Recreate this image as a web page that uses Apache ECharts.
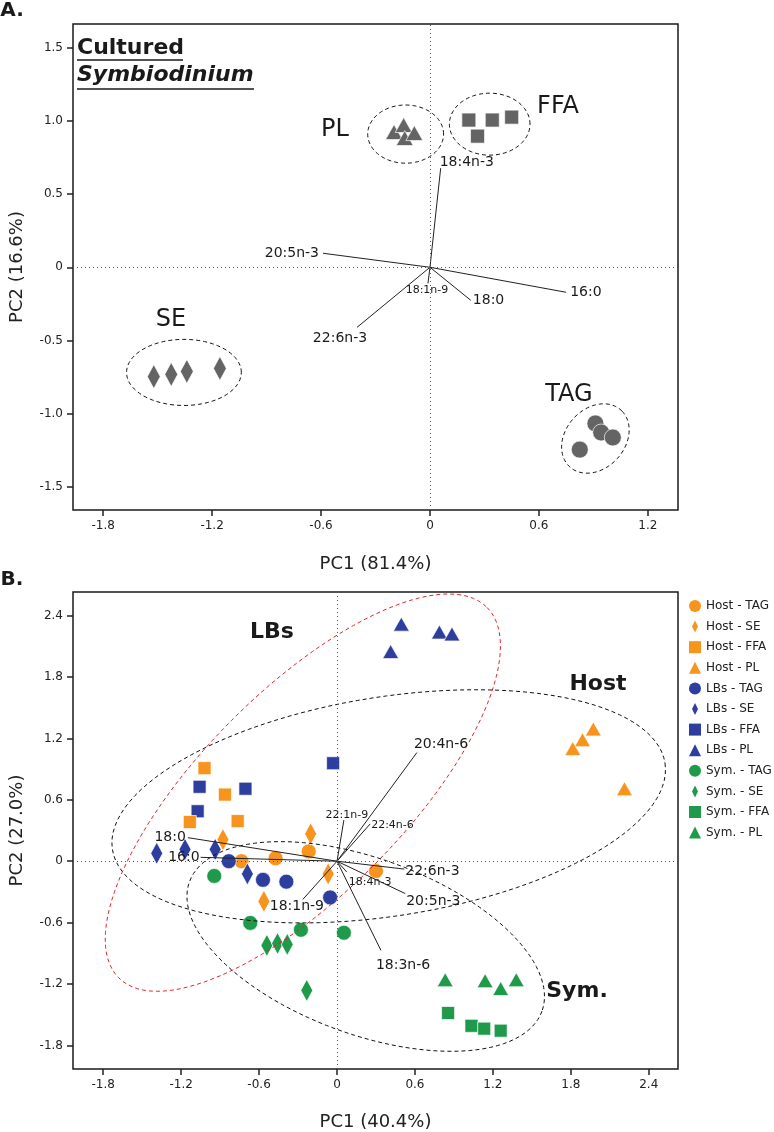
<!DOCTYPE html>
<html>
<head>
<meta charset="utf-8">
<title>PCA of lipid classes</title>
<script src="https://cdn.jsdelivr.net/npm/echarts@6/dist/echarts.min.js"></script>
<style>
  html, body { margin: 0; padding: 0; background: #fff; }
  #main { width: 774px; height: 1132px; }
</style>
</head>
<body>
<div id="main"></div>
<script>
// ---- panel A : cultured Symbiodinium (PC1 x PC2 scores) ----
var aTAG = [[0.911, -1.068], [0.943, -1.130], [1.007, -1.164], [0.825, -1.247]];
var aSE  = [[-1.521, -0.747], [-1.425, -0.733], [-1.339, -0.712], [-1.157, -0.692]];
var aFFA = [[0.214, 1.007], [0.343, 1.007], [0.450, 1.027], [0.262, 0.897]];
var aPL  = [[-0.198, 0.925], [-0.145, 0.973], [-0.139, 0.884], [-0.086, 0.918]];

// fatty acid loadings, panel A
var aLoadNames = ['18:4n-3', '20:5n-3', '16:0', '18:0', '18:1n-9', '22:6n-3'];
var aLoadX = [0.059, -0.589, 0.750, 0.225, -0.011, -0.402];
var aLoadY = [0.678, 0.096, -0.171, -0.226, -0.110, -0.411];

// group ellipses A: centre x, centre y, semi-axis U (x,y), semi-axis V (x,y)
var aEllipses = [
  [-0.134, 0.911, 0.209, 0, 0, 0.199],
  [0.329, 0.979, 0.222, 0, 0, 0.212],
  [-1.355, -0.719, 0.316, 0, 0, 0.226],
  [0.911, -1.171, 0.147, 0.187, 0.114, -0.146]
];

var aTicksX = [-1.8, -1.2, -0.6, 0, 0.6, 1.2];
var aTicksY = [-1.5, -1.0, -0.5, 0, 0.5, 1.0, 1.5];

// ---- panel B : host / lipid bodies / symbionts ----
var hostTAG = [[-0.735, 0.000], [-0.473, 0.029], [-0.218, 0.096], [0.300, -0.096]];
var hostSE  = [[-0.878, 0.210], [-0.203, 0.268], [-0.068, -0.124], [-0.563, -0.392]];
var hostFFA = [[-1.020, 0.909], [-0.863, 0.651], [-1.133, 0.383], [-0.765, 0.392]];
var hostPL  = [[1.973, 1.292], [1.890, 1.187], [1.815, 1.100], [2.213, 0.708]];
var lbsTAG  = [[-0.833, 0.000], [-0.570, -0.182], [-0.390, -0.200], [-0.053, -0.354]];
var lbsSE   = [[-1.388, 0.077], [-1.170, 0.115], [-0.938, 0.115], [-0.690, -0.124]];
var lbsFFA  = [[-1.058, 0.727], [-0.705, 0.708], [-1.073, 0.488], [-0.030, 0.957]];
var lbsPL   = [[0.495, 2.316], [0.413, 2.048], [0.788, 2.239], [0.885, 2.220]];
var symTAG  = [[-0.945, -0.144], [-0.668, -0.603], [-0.278, -0.670], [0.053, -0.699]];
var symSE   = [[-0.540, -0.823], [-0.458, -0.804], [-0.383, -0.813], [-0.233, -1.263]];
var symFFA  = [[0.855, -1.483], [1.035, -1.608], [1.133, -1.636], [1.260, -1.656]];
var symPL   = [[0.833, -1.158], [1.140, -1.167], [1.260, -1.244], [1.380, -1.158]];

var bLoadNames = ['20:4n-6', '22:1n-9', '22:4n-6', '18:0', '16:0', '18:1n-9', '18:4n-3', '18:3n-6', '22:6n-3', '20:5n-3'];
var bLoadX = [0.615, 0.053, 0.255, -1.148, -1.050, -0.263, 0.075, 0.338, 0.518, 0.525];
var bLoadY = [1.062, 0.402, 0.364, 0.230, 0.038, -0.373, -0.105, -0.871, -0.077, -0.316];

// Host, LBs, Sym. ellipses
var bEllipses = [
  [0.398, 0.536, 2.127, 0.422, 0.129, -1.058],
  [-0.263, 0.670, 1.418, 1.809, 0.551, -0.703],
  [0.221, -0.833, 1.357, -0.632, -0.230, -0.806]
];
var bEllipseColors = ['#111', '#e0262d', '#111'];

var bTicks = [-1.8, -1.2, -0.6, 0, 0.6, 1.2, 1.8, 2.4];

// label placement for loadings: align, dx, dy, font size
var aLabelPos = [['left', -1, -6, 14], ['right', -4, 0, 14], ['left', 4, 0, 14],
                 ['left', 2, 0, 14], ['center', -1, 7, 11], ['center', -17, 11, 14]];
var bLabelPos = [['left', -3, -8, 14], ['center', 3, -5, 11], ['left', 1, 1, 11],
                 ['right', -2, 0, 14], ['right', -1, 0, 14], ['center', -6, 7, 14],
                 ['left', 2, 10, 11], ['left', -5, 15, 14], ['left', 1, 2, 14], ['left', 1, 8, 14]];

var FONT = 'DejaVu Sans';
var ORANGE = '#f7941d', BLUE = '#2e3e9e', GREEN = '#1f9a4b', GRAY = '#646464';
var DIAMOND_ICON = 'path://M5,0L10,10L5,20L0,10Z';

function fmt(v) { return v === 0 ? '0' : v.toFixed(1); }

function axis(gi, min, max, ticks, name, gap) {
  return {
    gridIndex: gi, type: 'value', min: min, max: max,
    name: name, nameLocation: 'middle', nameGap: gap,
    nameTextStyle: { fontFamily: FONT, fontSize: 18, color: '#222' },
    axisLine: { show: false, onZero: false },
    axisTick: { show: true, inside: false, length: 6, customValues: ticks,
                lineStyle: { color: '#222', width: 1.5 } },
    axisLabel: { customValues: ticks, margin: 10, formatter: fmt,
                 fontFamily: FONT, fontSize: 12, color: '#222' },
    splitLine: { show: false }
  };
}

function scatter(name, data, gi, color, symbol, size) {
  return {
    name: name, type: 'scatter', xAxisIndex: gi, yAxisIndex: gi, z: 2,
    data: data, symbol: symbol, symbolSize: size,
    itemStyle: { color: color, opacity: 1, borderColor: 'rgba(255,255,255,0.85)', borderWidth: 0.8 }
  };
}

function ellipses(list, gi, colors) {
  return {
    type: 'custom', xAxisIndex: gi, yAxisIndex: gi, silent: true, z: 3,
    data: list,
    renderItem: function (params, api) {
      var e = list[params.dataIndex];
      var pts = [];
      for (var k = 0; k <= 120; k++) {
        var t = k / 120 * Math.PI * 2;
        pts.push(api.coord([e[0] + Math.cos(t) * e[2] + Math.sin(t) * e[4],
                            e[1] + Math.cos(t) * e[3] + Math.sin(t) * e[5]]));
      }
      return {
        type: 'polyline', shape: { points: pts },
        style: { fill: null, stroke: colors[params.dataIndex], lineWidth: 1, lineDash: [4, 3] }
      };
    }
  };
}

function loadings(names, xs, ys, pos, gi) {
  return {
    type: 'custom', xAxisIndex: gi, yAxisIndex: gi, silent: true, z: 4,
    data: xs.map(function (x, i) { return [x, ys[i]]; }),
    renderItem: function (params, api) {
      var i = params.dataIndex;
      var o = api.coord([0, 0]);
      var p = api.coord([api.value(0), api.value(1)]);
      var L = pos[i];
      return {
        type: 'group',
        children: [
          { type: 'line', shape: { x1: o[0], y1: o[1], x2: p[0], y2: p[1] },
            style: { stroke: '#222', lineWidth: 1 } },
          { type: 'text', x: p[0] + L[1], y: p[1] + L[2],
            style: { text: names[i], align: L[0], verticalAlign: 'middle',
                     fontFamily: FONT, fontSize: L[3], fill: '#1a1a1a' } }
        ]
      };
    }
  };
}

function zeroLines(gi) {
  return {
    type: 'line', xAxisIndex: gi, yAxisIndex: gi, data: [], silent: true, z: 1,
    markLine: { silent: true, symbol: 'none', animation: false, label: { show: false },
                lineStyle: { type: [1, 3], color: '#555', width: 1 },
                data: [{ xAxis: 0 }, { yAxis: 0 }] }
  };
}

function label(text, x, y, size, weight, style) {
  return { type: 'text', x: x, y: y, z: 10,
           style: { text: text, align: 'center', verticalAlign: 'middle', fill: '#1a1a1a',
                    fontFamily: FONT, fontSize: size, fontWeight: weight || 'normal',
                    fontStyle: style || 'normal' } };
}

var chart = echarts.init(document.getElementById('main'));
chart.setOption({
  animation: false,
  backgroundColor: '#fff',
  grid: [
    { left: 57, top: 24, width: 621, height: 486, show: true, borderColor: '#1a1a1a', borderWidth: 1.5 },
    { left: 57, top: 592, width: 621, height: 487, show: true, borderColor: '#1a1a1a', borderWidth: 1.5 }
  ],
  xAxis: [
    axis(0, -1.966, 1.366, aTicksX, 'PC1 (81.4%)', 45),
    axis(1, -2.0325, 2.625, bTicks, 'PC1 (40.4%)', 44)
  ],
  yAxis: [
    axis(0, -1.66, 1.664, aTicksY, 'PC2 (16.6%)', 47),
    axis(1, -2.03, 2.63, bTicks, 'PC2 (27.0%)', 47)
  ],
  legend: {
    orient: 'vertical', left: 684, top: 595, itemWidth: 12, itemHeight: 12, itemGap: 8.6,
    selectedMode: false,
    itemStyle: { borderWidth: 0 },
    textStyle: { fontFamily: FONT, fontSize: 12, color: '#222' },
    data: [
      { name: 'Host - TAG', icon: 'circle' }, { name: 'Host - SE', icon: DIAMOND_ICON },
      { name: 'Host - FFA', icon: 'rect' }, { name: 'Host - PL', icon: 'triangle' },
      { name: 'LBs - TAG', icon: 'circle' }, { name: 'LBs - SE', icon: DIAMOND_ICON },
      { name: 'LBs - FFA', icon: 'rect' }, { name: 'LBs - PL', icon: 'triangle' },
      { name: 'Sym. - TAG', icon: 'circle' }, { name: 'Sym. - SE', icon: DIAMOND_ICON },
      { name: 'Sym. - FFA', icon: 'rect' }, { name: 'Sym. - PL', icon: 'triangle' }
    ]
  },
  graphic: [
    label('A.', 12, 11, 20, 'bold'),
    label('B.', 12, 580, 20, 'bold'),
    { type: 'text', x: 77, y: 48, style: { text: 'Cultured', verticalAlign: 'middle', fill: '#1a1a1a',
      fontFamily: FONT, fontSize: 22, fontWeight: 'bold' } },
    { type: 'text', x: 77, y: 75, style: { text: 'Symbiodinium', verticalAlign: 'middle', fill: '#1a1a1a',
      fontFamily: FONT, fontSize: 22, fontWeight: 'bold', fontStyle: 'italic' } },
    { type: 'line', shape: { x1: 77, y1: 60, x2: 183, y2: 60 }, style: { stroke: '#1a1a1a', lineWidth: 1.5 } },
    { type: 'line', shape: { x1: 77, y1: 89, x2: 254, y2: 89 }, style: { stroke: '#1a1a1a', lineWidth: 1.5 } },
    label('PL', 335, 130, 24),
    label('FFA', 558, 107, 24),
    label('SE', 171, 320, 24),
    label('TAG', 569, 395, 24),
    label('LBs', 272, 632, 22, 'bold'),
    label('Host', 598, 684, 22, 'bold'),
    label('Sym.', 577, 991, 22, 'bold')
  ],
  series: [
    zeroLines(0),
    zeroLines(1),
    scatter('A - TAG', aTAG, 0, GRAY, 'circle', 17),
    scatter('A - SE', aSE, 0, GRAY, 'diamond', [13, 24]),
    scatter('A - FFA', aFFA, 0, GRAY, 'rect', 14),
    scatter('A - PL', aPL, 0, GRAY, 'triangle', [17, 15]),
    ellipses(aEllipses, 0, ['#111', '#111', '#111', '#111']),
    loadings(aLoadNames, aLoadX, aLoadY, aLabelPos, 0),

    scatter('Host - TAG', hostTAG, 1, ORANGE, 'circle', 15),
    scatter('LBs - FFA', lbsFFA, 1, BLUE, 'rect', 13),
    scatter('Host - FFA', hostFFA, 1, ORANGE, 'rect', 13),
    scatter('LBs - SE', lbsSE, 1, BLUE, 'diamond', [12, 22]),
    scatter('Host - SE', hostSE, 1, ORANGE, 'diamond', [12, 22]),
    scatter('Host - PL', hostPL, 1, ORANGE, 'triangle', [16, 14]),
    scatter('LBs - TAG', lbsTAG, 1, BLUE, 'circle', 15),
    scatter('LBs - PL', lbsPL, 1, BLUE, 'triangle', [16, 14]),
    scatter('Sym. - TAG', symTAG, 1, GREEN, 'circle', 15),
    scatter('Sym. - SE', symSE, 1, GREEN, 'diamond', [12, 22]),
    scatter('Sym. - FFA', symFFA, 1, GREEN, 'rect', 13),
    scatter('Sym. - PL', symPL, 1, GREEN, 'triangle', [16, 14]),
    ellipses(bEllipses, 1, bEllipseColors),
    loadings(bLoadNames, bLoadX, bLoadY, bLabelPos, 1)
  ]
});
</script>
</body>
</html>
